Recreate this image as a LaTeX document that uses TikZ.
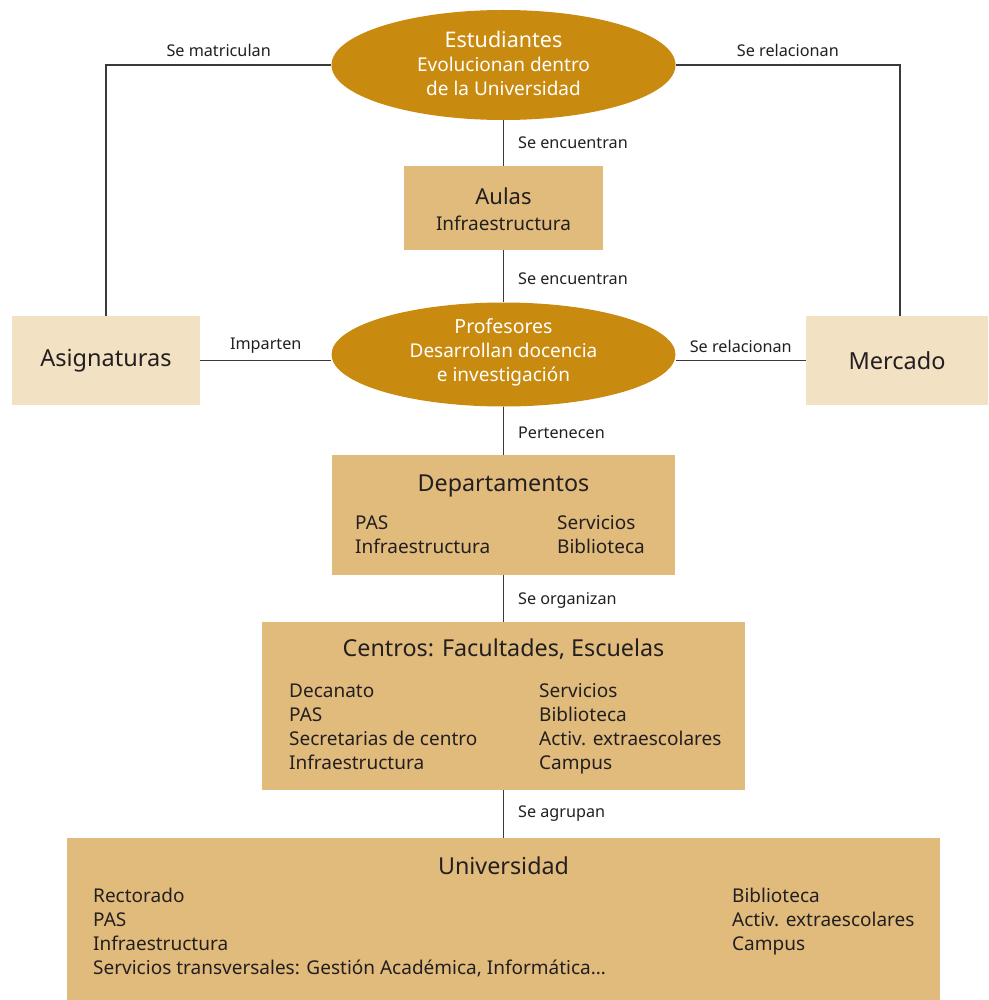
\documentclass[tikz,border=0pt]{standalone}
\usepackage{fontspec}
\setmainfont{Noto Sans}
\usetikzlibrary{shapes.geometric}
\definecolor{ocre}{HTML}{C98A10}
\definecolor{tan}{HTML}{E1BB7C}
\definecolor{crema}{HTML}{F3E1C4}
\definecolor{tinta}{HTML}{231F20}
\definecolor{linea}{HTML}{3A3A3A}
\newcommand{\ttl}{\fontsize{23.3}{27}\selectfont}
\newcommand{\bdy}{\fontsize{19}{24}\selectfont}
\newcommand{\lbl}{\fontsize{16.2}{19}\selectfont}
\tikzset{
  ovalo/.style={ellipse, fill=ocre, draw=none, minimum width=344pt, minimum height=110pt, inner sep=0pt},
  caja/.style={rectangle, fill=tan, draw=none, inner sep=0pt},
  cajaclara/.style={rectangle, fill=crema, draw=none, inner sep=0pt, text=tinta, font=\fontsize{23.5}{27}\selectfont},
  texto/.style={anchor=base west, inner sep=0pt, text=tinta, font=\bdy},
  titulo/.style={anchor=base, inner sep=0pt, text=tinta, font=\ttl},
  blanco/.style={anchor=base, inner sep=0pt, text=white, font=\bdy},
  conector/.style={draw=linea, line width=1.2pt},
  etiqueta/.style={inner sep=0pt, text=tinta, font=\lbl},
}
\begin{document}
\begin{tikzpicture}[x=1pt,y=-1pt]
\useasboundingbox (0,0) rectangle (988,1000);

% Oval nodes
\node[ovalo] (est) at (503.5,65) {};
\node[blanco, font=\fontsize{21.5}{25}\selectfont] (estT) at (503.5,48) {Estudiantes};
\node[blanco] (est1) at (503.5,72) {Evolucionan dentro};
\node[blanco] (est2) at (503.5,96) {de la Universidad};

\node[ovalo, minimum height=104pt] (prof) at (503.5,354.5) {};
\node[blanco, font=\fontsize{19.5}{23}\selectfont] (profT) at (503.5,333) {Profesores};
\node[blanco] (prof1) at (503.5,357) {Desarrollan docencia};
\node[blanco] (prof2) at (503.5,381) {e investigación};

% Side boxes
\node[cajaclara, minimum width=188pt, minimum height=89pt] (asig) at (106,360.5) {Asignaturas};
\node[cajaclara, minimum width=182pt, minimum height=89pt] (merc) at (897,360.5) {Mercado};

% Aulas
\node[caja, minimum width=199pt, minimum height=84pt] (aulas) at (503.5,208) {};
\node[titulo, font=\fontsize{22}{26}\selectfont] (aulasT) at (503.5,205) {Aulas};
\node[titulo, font=\bdy] (aulasS) at (503.5,230) {Infraestructura};

% Departamentos
\node[caja, minimum width=343pt, minimum height=120pt] (dep) at (503.5,515) {};
\node[titulo] (depT) at (503.5,491) {Departamentos};
\node[texto] (dep1) at (355,529) {PAS};
\node[texto] (dep2) at (355,553) {Infraestructura};
\node[texto] (dep3) at (557,529) {Servicios};
\node[texto] (dep4) at (557,553) {Biblioteca};

% Centros
\node[caja, minimum width=483pt, minimum height=168pt] (cen) at (503.5,706) {};
\node[titulo] (cenT) at (503.5,656) {Centros: Facultades, Escuelas};
\node[texto] (cen1) at (289,697) {Decanato};
\node[texto] (cen2) at (289,721) {PAS};
\node[texto] (cen3) at (289,745) {Secretarias de centro};
\node[texto] (cen4) at (289,769) {Infraestructura};
\node[texto] (cen5) at (539,697) {Servicios};
\node[texto] (cen6) at (539,721) {Biblioteca};
\node[texto] (cen7) at (539,745) {Activ. extraescolares};
\node[texto] (cen8) at (539,769) {Campus};

% Universidad
\node[caja, minimum width=873pt, minimum height=164pt] (uni) at (503.5,920) {};
\node[titulo] (uniT) at (503.5,874) {Universidad};
\node[texto] (uni1) at (93,902) {Rectorado};
\node[texto] (uni2) at (93,926) {PAS};
\node[texto] (uni3) at (93,950) {Infraestructura};
\node[texto] (uni4) at (93,974) {Servicios transversales: Gestión Académica, Informática…};
\node[texto] (uni5) at (732,902) {Biblioteca};
\node[texto] (uni6) at (732,926) {Activ. extraescolares};
\node[texto] (uni7) at (732,950) {Campus};

% Connectors with their labels
\draw[conector] (est.west) -| (asig.north)
  node[etiqueta, pos=0.25, above=8pt] (l1) {Se matriculan};
\draw[conector] (est.east) -| ([xshift=3pt]merc.north)
  node[etiqueta, pos=0.25, above=8pt] (l2) {Se relacionan};
\draw[conector] (est.south) -- (aulas.north)
  node[etiqueta, midway, anchor=west, xshift=14pt] (l3) {Se encuentran};
\draw[conector] (aulas.south) -- (prof.north)
  node[etiqueta, midway, anchor=west, xshift=14pt, yshift=-2pt] (l4) {Se encuentran};
\draw[conector] (asig.east) -- (prof.west |- asig.east)
  node[etiqueta, midway, above=7pt] (l5) {Imparten};
\draw[conector] (merc.west) -- (prof.east |- merc.west)
  node[etiqueta, midway, above=7pt] (l6) {Se relacionan};
\draw[conector] (prof.south) -- (dep.north)
  node[etiqueta, midway, anchor=west, xshift=14pt, yshift=-2pt] (l7) {Pertenecen};
\draw[conector] (dep.south) -- (cen.north)
  node[etiqueta, midway, anchor=west, xshift=14pt, yshift=-2pt] (l8) {Se organizan};
\draw[conector] (cen.south) -- (uni.north)
  node[etiqueta, midway, anchor=west, xshift=14pt] (l9) {Se agrupan};
\end{tikzpicture}
\end{document}
